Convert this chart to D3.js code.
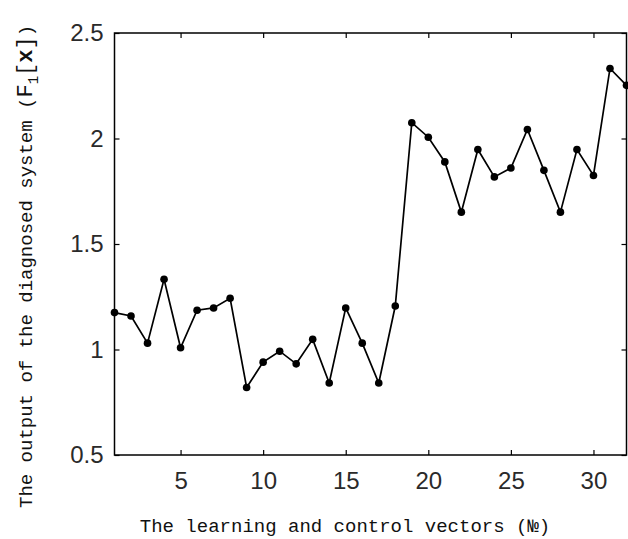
<!DOCTYPE html>
<html>
<head>
<meta charset="utf-8">
<script src="https://cdn.jsdelivr.net/npm/d3@7"></script>
<style>
  body { margin: 0; background: #fff; }
  svg { display: block; }
</style>
</head>
<body>
<svg id="chart" width="628" height="539"></svg>
<script>
// Data
const vectorNo = d3.range(1, 33);
const outputValues = [
  1.175, 1.159, 1.03, 1.333, 1.008, 1.186, 1.197, 1.243, 0.82, 0.94,
  0.992, 0.932, 1.048, 0.841, 1.197, 1.03, 0.841, 1.206, 2.075, 2.006,
  1.889, 1.651, 1.948, 1.818, 1.86, 2.043, 1.849, 1.651, 1.948, 1.825,
  2.332, 2.252
];
const xTicks = [5, 10, 15, 20, 25, 30];
const yTicks = [0.5, 1, 1.5, 2, 2.5];

const data = vectorNo.map((n, i) => ({ n: n, v: outputValues[i] }));

const svg = d3.select("#chart");
const plotL = 114.5, plotR = 626.5, plotT = 33, plotB = 455;

const x = d3.scaleLinear().domain([1, 32]).range([plotL, plotR]);
const y = d3.scaleLinear().domain([0.5, 2.5]).range([plotB, plotT]);

const tickFont = "'Liberation Sans', Arial, sans-serif";
const labelFont = "'Liberation Mono', 'Courier New', monospace";

// axes with inward ticks
svg.append("g")
  .attr("transform", `translate(0,${plotB})`)
  .call(d3.axisBottom(x).tickValues(xTicks).tickSizeInner(-5).tickSizeOuter(0).tickPadding(17));
svg.append("g")
  .attr("transform", `translate(0,${plotT})`)
  .call(d3.axisTop(x).tickValues(xTicks).tickSizeInner(-5).tickSizeOuter(0).tickFormat(""));
svg.append("g")
  .attr("transform", `translate(${plotL},0)`)
  .call(d3.axisLeft(y).tickValues(yTicks).tickSizeInner(-5).tickSizeOuter(0).tickPadding(11).tickFormat(d3.format("")));
svg.append("g")
  .attr("transform", `translate(${plotR},0)`)
  .call(d3.axisRight(y).tickValues(yTicks).tickSizeInner(-5).tickSizeOuter(0).tickFormat(""));

svg.selectAll(".domain").remove();
svg.selectAll(".tick line").attr("stroke", "#000").attr("stroke-width", 1.2);
svg.selectAll(".tick text")
  .attr("font-family", tickFont)
  .attr("font-size", 24)
  .attr("fill", "#2a2a2a");

// frame
svg.append("rect")
  .attr("x", plotL).attr("y", plotT)
  .attr("width", plotR - plotL).attr("height", plotB - plotT)
  .attr("fill", "none").attr("stroke", "#000").attr("stroke-width", 1.5);

// line
const line = d3.line().x(d => x(d.n)).y(d => y(d.v));
svg.append("path")
  .datum(data)
  .attr("d", line)
  .attr("fill", "none")
  .attr("stroke", "#000")
  .attr("stroke-width", 1.7);

svg.selectAll(".pt")
  .data(data)
  .enter()
  .append("circle")
  .attr("class", "pt")
  .attr("cx", d => x(d.n))
  .attr("cy", d => y(d.v))
  .attr("r", 3.8)
  .attr("fill", "#000");

// x label
svg.append("text")
  .attr("x", 345)
  .attr("y", 532)
  .attr("text-anchor", "middle")
  .attr("font-family", labelFont)
  .attr("font-size", 19)
  .attr("fill", "#111")
  .text("The learning and control vectors (№)");

// y label
const yl = svg.append("text")
  .attr("transform", "translate(32,508) rotate(-90)")
  .attr("text-anchor", "start")
  .attr("font-family", labelFont)
  .attr("font-size", 19)
  .attr("fill", "#111");
yl.append("tspan").text("The output of the diagnosed system (");
yl.append("tspan").attr("font-size", 22).text("F");
yl.append("tspan").attr("font-size", 14).attr("dy", 6).text("1");
yl.append("tspan").attr("font-size", 22).attr("dy", -6).text("[");
yl.append("tspan").attr("font-size", 22).attr("font-weight", "bold").text("x");
yl.append("tspan").attr("font-size", 22).text("]");
yl.append("tspan").text(")");
</script>
</body>
</html>
